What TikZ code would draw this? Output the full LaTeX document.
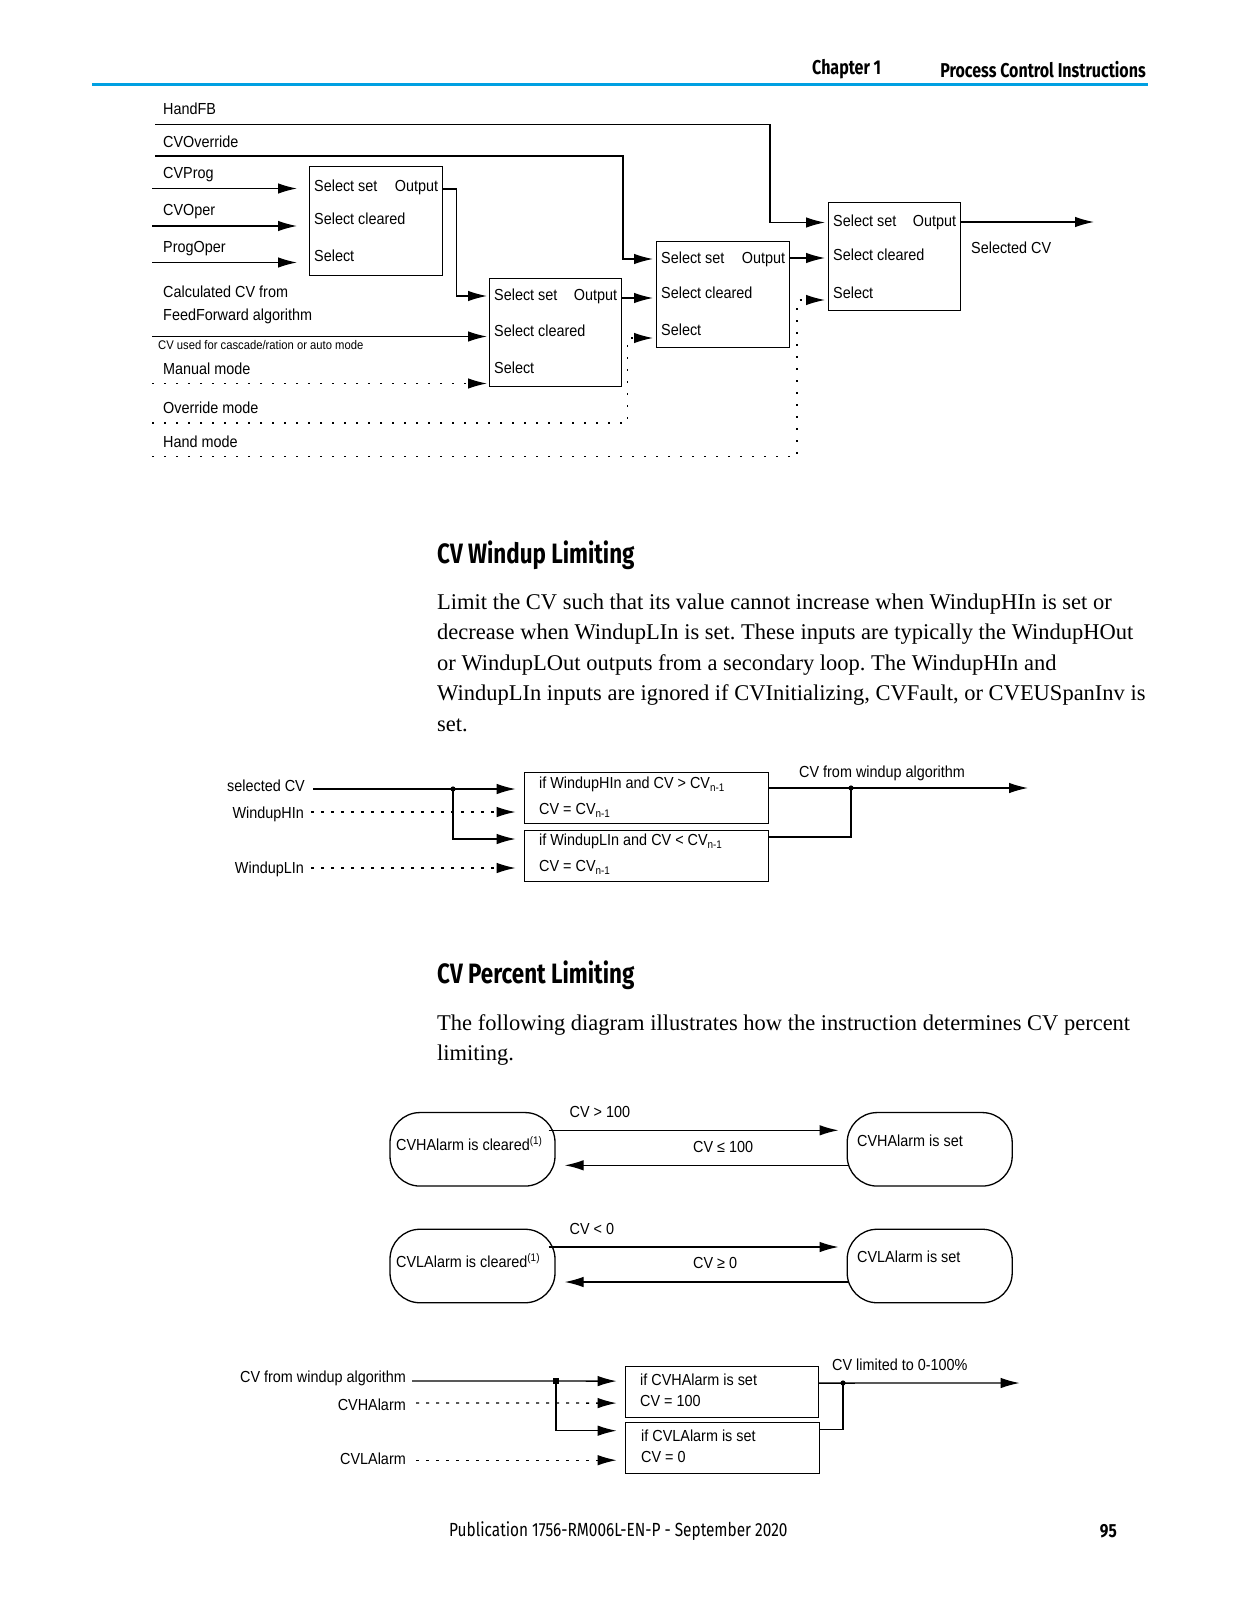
\documentclass[tikz,border=0pt]{standalone}
\usepackage{fontspec}
\setmainfont{Liberation Serif}
\newfontfamily\dfont[FakeStretch=0.9]{Liberation Sans}
\newfontfamily\hfont[FakeStretch=0.8]{Fira Sans}
\newfontfamily\ffont[FakeStretch=0.81]{Fira Sans}
\usetikzlibrary{arrows.meta,calc}
\definecolor{hblue}{RGB}{0,160,226}
\newcommand{\sbn}[1]{\raisebox{-0.4ex}{\fontsize{11}{11}\selectfont #1}}
\newcommand{\spn}[1]{\raisebox{0.7ex}{\fontsize{11}{11}\selectfont #1}}
\frenchspacing
\tikzset{
  dtext/.style={font=\dfont\fontsize{16}{18}\selectfont, inner sep=0pt, text height=11.5pt, text depth=3.5pt},
  lab/.style={dtext, anchor=west},
  labe/.style={dtext, anchor=east},
  blk/.style={draw, line width=1.3pt, inner sep=0pt, anchor=north west},
  ln/.style={line width=1.3pt},
  arr/.style={ln, -{Latex[length=19pt,width=10.5pt]}},
  darr/.style={ln, dash pattern=on 2pt off 10pt, -{Latex[length=19pt,width=10.5pt]}},
  wdarr/.style={ln, dash pattern=on 3pt off 7pt, -{Latex[length=19pt,width=10.5pt]}},
  stat/.style={draw, line width=1.3pt, rounded corners=30pt, minimum width=165pt, minimum height=73.5pt, inner sep=0pt},
  body/.style={font=\fontsize{22.5}{27}\selectfont, anchor=west, inner sep=0pt, text height=15.5pt, text depth=5pt},
  head/.style={font=\hfont\bfseries\fontsize{28}{30}\selectfont, anchor=west, inner sep=0pt},
}
\begin{document}
\begin{tikzpicture}[x=1pt,y=-1pt]
\useasboundingbox (0,0) rectangle (1237,1600);
\fill[white] (0,0) rectangle (1237,1600);

% ---------- header ----------
\fill[hblue] (92,83) rectangle (1148,86.5);
\node[anchor=west, inner sep=0pt, font=\hfont\bfseries\fontsize{20}{22}\selectfont] (hch) at (812,69.4) {Chapter 1};
\node[anchor=east, inner sep=0pt, font=\hfont\bfseries\fontsize{20}{22}\selectfont] (hpc) at (1146,69.4) {Process Control Instructions};

% ---------- top diagram ----------
\node[lab] (lhandfb) at (163,111) {HandFB};
\node[lab] (lcvov) at (163,143) {CVOverride};
\node[lab] (lcvprog) at (163,174) {CVProg};
\node[lab] (lcvoper) at (163,211) {CVOper};
\node[lab] (lprogoper) at (163,248) {ProgOper};
\node[lab] (lcalc1) at (163,293) {Calculated CV from};
\node[lab] (lcalc2) at (163,316) {FeedForward algorithm};
\node[lab, font=\dfont\fontsize{12.5}{14}\selectfont, text height=9pt, text depth=2.5pt] (lcasc) at (158,346) {CV used for cascade/ration or auto mode};
\node[lab] (lman) at (163,370) {Manual mode};
\node[lab] (lovr) at (163,409) {Override mode};
\node[lab] (lhand) at (163,443) {Hand mode};

\node[blk, minimum width=133pt, minimum height=108.5pt] (b1) at (309,166) {};
\node[blk, minimum width=132pt, minimum height=108pt] (b2) at (489,278) {};
\node[blk, minimum width=133pt, minimum height=106pt] (b3) at (656,241) {};
\node[blk, minimum width=132pt, minimum height=108pt] (b4) at (828,202) {};

% box texts
\node[lab] (b1t1) at ($(b1.north west)+(5,21)$) {Select set};
\node[labe] (b1t0) at ($(b1.north east)+(-5,21)$) {Output};
\node[lab] (b1t2) at ($(b1.north west)+(5,54)$) {Select cleared};
\node[lab] (b1t3) at ($(b1.north west)+(5,91)$) {Select};
\node[lab] (b2t1) at ($(b2.north west)+(5,18)$) {Select set};
\node[labe] (b2t0) at ($(b2.north east)+(-5,18)$) {Output};
\node[lab] (b2t2) at ($(b2.north west)+(5,54)$) {Select cleared};
\node[lab] (b2t3) at ($(b2.north west)+(5,91.5)$) {Select};
\node[lab] (b3t1) at ($(b3.north west)+(5,18)$) {Select set};
\node[labe] (b3t0) at ($(b3.north east)+(-5,18)$) {Output};
\node[lab] (b3t2) at ($(b3.north west)+(5,53)$) {Select cleared};
\node[lab] (b3t3) at ($(b3.north west)+(5,90)$) {Select};
\node[lab] (b4t1) at ($(b4.north west)+(5,20.5)$) {Select set};
\node[labe] (b4t0) at ($(b4.north east)+(-5,20.5)$) {Output};
\node[lab] (b4t2) at ($(b4.north west)+(5,54)$) {Select cleared};
\node[lab] (b4t3) at ($(b4.north west)+(5,92)$) {Select};
\node[lab] (lselcv) at (971,249) {Selected CV};

% input points
\coordinate (b1i1) at ($(b1.north west)+(0,22.5)$);
\coordinate (b1i2) at ($(b1.north west)+(0,60)$);
\coordinate (b1i3) at ($(b1.north west)+(0,96.5)$);
\coordinate (b2i1) at ($(b2.north west)+(0,18)$);
\coordinate (b2i2) at ($(b2.north west)+(0,58.5)$);
\coordinate (b2i3) at ($(b2.north west)+(0,105.5)$);
\coordinate (b3i1) at ($(b3.north west)+(0,18)$);
\coordinate (b3i2) at ($(b3.north west)+(0,57)$);
\coordinate (b3i3) at ($(b3.north west)+(0,97)$);
\coordinate (b4i1) at ($(b4.north west)+(0,20.5)$);
\coordinate (b4i2) at ($(b4.north west)+(0,56)$);
\coordinate (b4i3) at ($(b4.north west)+(0,98)$);
\coordinate (b1o) at ($(b1.north east)+(0,23)$);
\coordinate (b2o) at ($(b2.north east)+(0,20)$);
\coordinate (b3o) at ($(b3.north east)+(0,17)$);
\coordinate (b4o) at ($(b4.north east)+(0,20)$);
\coordinate (selout) at (1094,222);

% start points
\coordinate (hfb0) at (155,124.5);
\coordinate (cvo0) at (155,156);
\coordinate (cvp0) at (152,188.5);
\coordinate (cvop0) at (152,226);
\coordinate (pgo0) at (152,262.5);
\coordinate (casc0) at (152,336.5);
\coordinate (man0) at (152,383.5);
\coordinate (ovr0) at (152,423);
\coordinate (hnd0) at (152,456.5);

\draw[arr, shorten >=3pt] (hfb0) -| ($(b4i1)+(-58,0)$) -- (b4i1);
\draw[arr, shorten >=3pt] (cvo0) -| ($(b3i1)+(-33,0)$) -- (b3i1);
\draw[arr, shorten >=12pt] (cvp0) -- (b1i1);
\draw[arr, shorten >=12pt] (cvop0) -- (b1i2);
\draw[arr, shorten >=12pt] (pgo0) -- (b1i3);
\draw[arr, shorten >=2pt] (b1o) -- ++(13,0) |- (b2i1);
\draw[arr, shorten >=2pt] (casc0) -- (b2i2);
\draw[darr, shorten >=2pt] (man0) -- (b2i3);
\draw[arr, shorten >=3pt] (b2o) -- (b3i2);
\draw[darr, shorten >=3pt] (ovr0) -| ($(b3i3)+(-28.5,0)$) -- (b3i3);
\draw[arr, shorten >=3pt] (b3o) -- (b4i2);
\draw[darr, shorten >=3pt] (hnd0) -| ($(b4i3)+(-31,0)$) -- (b4i3);
\draw[arr] (b4o) -- (selout);

% ---------- CV Windup Limiting ----------
\node[head] (hw) at (437,555) {CV Windup Limiting};
\node[body] (pw1) at (437,604) {Limit the CV such that its value cannot increase when WindupHIn is set or};
\node[body] (pw2) at (437,634.5) {decrease when WindupLIn is set. These inputs are typically the WindupHOut};
\node[body] (pw3) at (437,665) {or WindupLOut outputs from a secondary loop. The WindupHIn and};
\node[body] (pw4) at (437,695.5) {WindupLIn inputs are ignored if CVInitializing, CVFault, or CVEUSpanInv is};
\node[body] (pw5) at (437,726) {set.};

\node[labe] (wsel) at (305,787) {selected CV};
\node[labe] (whin) at (304,814) {WindupHIn};
\node[labe] (wlin) at (304,869) {WindupLIn};
\node[blk, minimum width=244pt, minimum height=50.6pt] (w1) at (523.6,772) {};
\node[blk, minimum width=244pt, minimum height=51pt] (w2) at (523.6,830) {};
\node[lab] (w1t1) at ($(w1.north west)+(15.4,12)$) {if WindupHIn and CV > CV\sbn{n-1}};
\node[lab] (w1t2) at ($(w1.north west)+(15.4,38)$) {CV = CV\sbn{n-1}};
\node[lab] (w2t1) at ($(w2.north west)+(15.4,11)$) {if WindupLIn and CV < CV\sbn{n-1}};
\node[lab] (w2t2) at ($(w2.north west)+(15.4,37)$) {CV = CV\sbn{n-1}};
\node[lab] (wcvout) at (799,773) {CV from windup algorithm};

\coordinate (w1i1) at ($(w1.north west)+(0,17)$);
\coordinate (w1i2) at ($(w1.north west)+(0,40)$);
\coordinate (w2i1) at ($(w2.north west)+(0,9)$);
\coordinate (w2i2) at ($(w2.north west)+(0,38)$);
\coordinate (wsel0) at (313,789);
\coordinate (whin0) at (311,812);
\coordinate (wlin0) at (311,868);
\coordinate (wj) at (453,789);
\coordinate (w1o) at ($(w1.north east)+(0,16)$);
\coordinate (w2o) at ($(w2.north east)+(0,7)$);
\coordinate (wj2) at (851,788);
\coordinate (wout) at (1028,788);

\draw[arr, shorten >=8pt] (wsel0) -- (w1i1);
\draw[arr, shorten >=8pt] (wj) |- (w2i1);
\draw[wdarr, shorten >=8pt] (whin0) -- (w1i2);
\draw[wdarr, shorten >=8pt] (wlin0) -- (w2i2);
\fill (wj) circle (2.6pt);
\draw[arr] (w1o) -- (wout);
\draw[ln] (w2o) -| (wj2);
\fill (wj2) circle (2.6pt);

% ---------- CV Percent Limiting ----------
\node[head] (hp) at (437,975) {CV Percent Limiting};
\node[body] (pp1) at (437,1025) {The following diagram illustrates how the instruction determines CV percent};
\node[body] (pp2) at (437,1055.5) {limiting.};

\node[stat] (hc) at (472.5,1149.3) {};
\node[stat] (hs) at (929.7,1149.3) {};
\node[stat] (lc) at (472.5,1266) {};
\node[stat] (ls) at (929.7,1266) {};
\node[lab] (hct) at (396,1146) {CVHAlarm is cleared\spn{(1)}};
\node[lab] (hst) at (857,1142) {CVHAlarm is set};
\node[lab] (lct) at (396,1263.5) {CVLAlarm is cleared\spn{(1)}};
\node[lab] (lst) at (857,1258) {CVLAlarm is set};

\draw[arr] ($(hc.east)+(-7,-19)$) -- ($(hs.west)+(-8,-19)$);
\draw[arr] ($(hs.west)+(2,16)$) -- ($(hc.east)+(9,16)$);
\draw[arr] ($(lc.east)+(-7,-19)$) -- ($(ls.west)+(-8,-19)$);
\draw[arr] ($(ls.west)+(2,16)$) -- ($(lc.east)+(9,16)$);
\node[lab] (gt100) at (569.5,1113) {CV > 100};
\node[lab] (le100) at (693,1148) {CV ≤ 100};
\node[lab] (lt0) at (569.5,1230) {CV < 0};
\node[lab] (ge0) at (693,1264.5) {CV ≥ 0};

% limiting diagram
\node[labe] (pcv) at (406,1378) {CV from windup algorithm};
\node[labe] (pha) at (406,1406) {CVHAlarm};
\node[labe] (pla) at (406,1460) {CVLAlarm};
\node[blk, minimum width=193pt, minimum height=51pt] (p1) at (624.6,1365.6) {};
\node[blk, minimum width=194pt, minimum height=51pt] (p2) at (624.6,1421.7) {};
\node[lab] (p1t1) at ($(p1.north west)+(15.4,15.5)$) {if CVHAlarm is set};
\node[lab] (p1t2) at ($(p1.north west)+(15.4,36.5)$) {CV = 100};
\node[lab] (p2t1) at ($(p2.north west)+(16.4,15.5)$) {if CVLAlarm is set};
\node[lab] (p2t2) at ($(p2.north west)+(16.4,37)$) {CV = 0};
\node[lab] (plim) at (832,1366) {CV limited to 0-100\%};

\coordinate (p1i1) at ($(p1.north west)+(0,15.5)$);
\coordinate (p1i2) at ($(p1.north west)+(0,37.5)$);
\coordinate (p2i1) at ($(p2.north west)+(0,9)$);
\coordinate (p2i2) at ($(p2.north west)+(0,38.5)$);
\coordinate (pcv0) at (412,1381);
\coordinate (pha0) at (416,1403);
\coordinate (pla0) at (416,1460.2);
\coordinate (pj) at (556,1381);
\coordinate (p1o) at ($(p1.north east)+(0,17.5)$);
\coordinate (p2o) at ($(p2.north east)+(0,7.5)$);
\coordinate (pj2) at (843,1383);
\coordinate (pout) at (1019.6,1383);

\draw[arr, shorten >=8pt] (pcv0) -- (p1i1);
\draw[arr, shorten >=8pt] (pj) |- (p2i1);
\draw[wdarr, shorten >=8pt] (pha0) -- (p1i2);
\draw[wdarr, shorten >=8pt] (pla0) -- (p2i2);
\fill ($(pj)+(-2.6,-2.6)$) rectangle ($(pj)+(2.6,2.6)$);
\draw[arr] (p1o) -- (pout);
\draw[ln] (p2o) -| (pj2);
\fill (pj2) circle (2.6pt);

% ---------- footer ----------
\node[anchor=west, inner sep=0pt, font=\ffont\fontsize{19}{21}\selectfont] (foot) at (449,1531) {Publication 1756-RM006L-EN-P - September 2020};
\node[anchor=east, inner sep=0pt, font=\ffont\bfseries\fontsize{19}{21}\selectfont] (pgno) at (1117,1531) {95};
\end{tikzpicture}
\end{document}
